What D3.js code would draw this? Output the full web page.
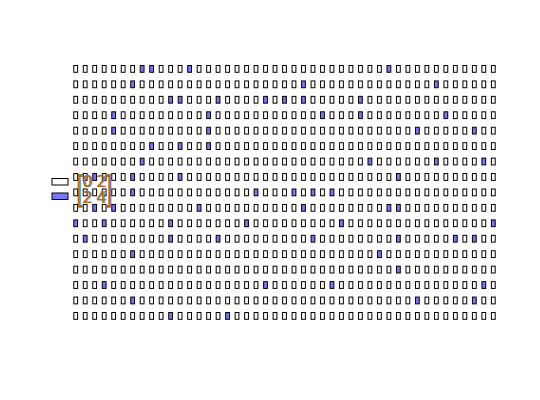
<!DOCTYPE html>
<html><head><meta charset="utf-8">
<script src="https://cdn.jsdelivr.net/npm/d3@7"></script>
<style>body{margin:0;background:#fff}svg{display:block}</style>
</head><body><svg id="c" width="540" height="400"></svg>
<script>
const columns = d3.range(45);
const rowsIdx = d3.range(17);
const blueCells = [
  [7, 8, 12, 33],
  [6, 24, 38],
  [10, 11, 15, 20, 22, 24, 30],
  [4, 14, 26, 30, 39],
  [4, 14, 36, 42],
  [8, 11, 14],
  [7, 31, 38, 43],
  [2, 6, 11, 34],
  [6, 19, 23, 25, 27],
  [2, 4, 13, 24, 33, 34],
  [0, 3, 10, 18, 28, 44],
  [1, 10, 15, 25, 34, 40, 42],
  [6, 32],
  [34],
  [3, 20, 27, 43],
  [6, 36, 42],
  [10, 16]
];
const legendRows = [["0", "2"], ["2", "4"]];
const legendFills = ["#ffffff", "#7878ff"];

const svg = d3.select("#c");
const x = d3.scaleBand().domain(columns).range([73.8, 495.2]).paddingInner(0.6);
const y = d3.scaleBand().domain(rowsIdx).range([65.5, 319.3]).paddingInner(0.56);

const cells = [];
rowsIdx.forEach(r => columns.forEach(c => cells.push({r, c, on: blueCells[r].includes(c)})));

svg.append("g").selectAll("rect").data(cells).join("rect")
  .attr("x", d => x(d.c))
  .attr("y", d => y(d.r))
  .attr("width", x.bandwidth())
  .attr("height", y.bandwidth())
  .attr("fill", d => d.on ? legendFills[1] : legendFills[0])
  .attr("stroke", "#000")
  .attr("stroke-width", 1);

// legend
const lg = svg.append("g");
lg.selectAll("rect").data(legendFills).join("rect")
  .attr("x", 52).attr("y", (d, i) => 178.5 + i * 14.5)
  .attr("width", 16).attr("height", 6.5)
  .attr("fill", d => d).attr("stroke", "#000").attr("stroke-width", 1);

const txt = svg.append("g").attr("font-family", "DejaVu Sans");
[["#3a7fd0", 1], ["#c06a00", 0]].forEach(([col, dx]) => {
  const g = txt.append("g").attr("fill", col).attr("transform", `translate(${dx},0)`);
  g.append("text").attr("x", 76).attr("y", 202).attr("font-size", 37)
    .attr("transform", "scale(0.55,1) translate(62,0)").text("[");
  g.append("text").attr("x", 104).attr("y", 202).attr("font-size", 37)
    .attr("transform", "scale(0.55,1) translate(85,0)").text("]");
  legendRows.forEach((row, i) => {
    g.selectAll(null).data(row).join("text")
      .attr("x", (d, j) => 82 + j * 14)
      .attr("y", 187 + i * 16)
      .attr("font-size", 16)
      .attr("transform", "scale(1,1)")
      .text(d => d);
  });
});
</script>
</body></html>
